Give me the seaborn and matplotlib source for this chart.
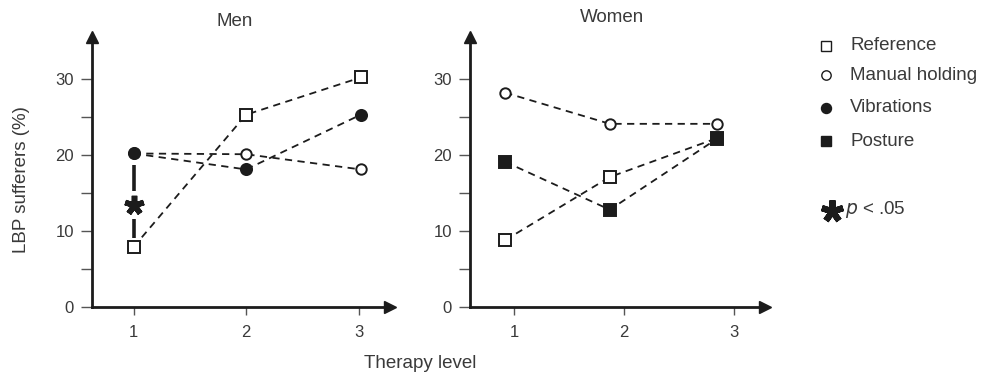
import matplotlib
matplotlib.use("Agg")
import matplotlib.pyplot as plt
import seaborn as sns
import pandas as pd
from matplotlib.lines import Line2D

sns.set_theme(style="white")
plt.rcParams['font.family'] = ['Liberation Sans', 'DejaVu Sans']

# ---- data ----
series = ["Reference", "Manual holding", "Vibrations", "Posture"]
men_x = [1, 2, 3.02]
men_reference = [7.9, 25.3, 30.2]
men_manual = [20.2, 20.1, 18.1]
men_vibrations = [20.2, 18.1, 25.3]
women_x = [0.92, 1.87, 2.84]
women_reference = [8.8, 17.1, 22.2]
women_manual = [28.2, 24.1, 24.1]
women_posture = [19.1, 12.8, 22.1]
yticks_major = [0, 10, 20, 30]
yticks_minor = [5, 15, 25]
xticks = [1, 2, 3]
star_level = 1
star_y = 13.4

ink = "#1c1c1c"
txt = "#3a3a3a"
FS = 13.5
TFS = 12

styles = {
    "Reference": dict(marker="s", mfc="white", ms=8),
    "Manual holding": dict(marker="o", mfc="white", ms=7.5),
    "Vibrations": dict(marker="o", mfc=ink, ms=8),
    "Posture": dict(marker="s", mfc=ink, ms=8.5),
}

rows = []
for s, ys in [("Manual holding", men_manual), ("Vibrations", men_vibrations), ("Reference", men_reference)]:
    for x, y in zip(men_x, ys):
        rows.append(dict(panel="Men", series=s, level=x, pct=y))
for s, ys in [("Manual holding", women_manual), ("Reference", women_reference), ("Posture", women_posture)]:
    for x, y in zip(women_x, ys):
        rows.append(dict(panel="Women", series=s, level=x, pct=y))
df = pd.DataFrame(rows)

fig = plt.figure(figsize=(9.84, 3.75), dpi=100)
ax_men = fig.add_axes([92/984, 1-307/375, (390-92)/984, (307-37)/375])
ax_wom = fig.add_axes([470/984, 1-307/375, (765-470)/984, (307-37)/375])

ytop = (307-37)/7.6

def style_axes(ax, xlim):
    ax.set_xlim(*xlim)
    ax.set_ylim(0, ytop)
    for sp in ["top", "right"]:
        ax.spines[sp].set_visible(False)
    for sp in ["left", "bottom"]:
        ax.spines[sp].set_linewidth(2.0)
        ax.spines[sp].set_color(ink)
    ax.set_xticks(xticks)
    ax.set_xticklabels([str(t) for t in xticks])
    ax.set_yticks(yticks_major)
    ax.set_yticks(yticks_minor, minor=True)
    ax.tick_params(axis="both", which="both", direction="out", color="#555", width=1.0,
                   labelsize=TFS, labelcolor=txt, left=True, bottom=True)
    ax.tick_params(axis="y", which="both", length=8, pad=5)
    ax.tick_params(axis="x", which="major", length=6, pad=7)
    ax.set_xlabel("")
    ax.set_ylabel("")
    ax.grid(False)
    # arrow heads
    ax.plot([0], [1], marker="^", ms=9, color=ink, transform=ax.transAxes, clip_on=False)
    ax.plot([1], [0], marker=">", ms=9, color=ink, transform=ax.transAxes, clip_on=False)

for ax, panel, xlim in [(ax_men, "Men", (0.63, 3.28)), (ax_wom, "Women", (0.6, 3.28))]:
    sub = df[df.panel == panel]
    for s in sub.series.unique():
        d = sub[sub.series == s]
        st = styles[s]
        sns.lineplot(data=d, x="level", y="pct", ax=ax, color=ink, lw=1.3,
                     linestyle=(0, (4, 3)), marker=st["marker"], markersize=st["ms"],
                     markerfacecolor=st["mfc"], markeredgecolor=ink, markeredgewidth=1.4,
                     zorder=3, legend=False)
    style_axes(ax, xlim)

fig.text(235/984, 1-22/375, "Men", ha="center", va="center", fontsize=FS, color=txt)
fig.text(612/984, 1-18/375, "Women", ha="center", va="center", fontsize=FS, color=txt)

# significance marker in Men panel
ax_men.plot([star_level, star_level], [15.3, 18.7], color=ink, lw=2.6, solid_capstyle="butt")
ax_men.plot([star_level, star_level], [9.1, 11.6], color=ink, lw=2.6, solid_capstyle="butt")
ax_men.plot([star_level], [star_y], marker=(5, 2, 0), ms=14, mew=4, color=ink, zorder=4)

fig.text(22/984, 1-180/375, "LBP sufferers (%)", rotation=90, ha="center", va="center",
         fontsize=FS, color=txt)
fig.text(420/984, 1-364/375, "Therapy level", ha="center", va="center", fontsize=FS, color=txt)

# legend
leg_y = [46, 75, 108, 141]
for s, yp in zip(series, leg_y):
    st = styles[s]
    fig.add_artist(Line2D([826/984], [1-yp/375], marker=st["marker"], ms=st["ms"]*0.9,
                          mfc=st["mfc"], mec=ink, mew=1.0, ls="none", transform=fig.transFigure))
    fig.text(850/984, 1-yp/375, s, ha="left", va="center", fontsize=FS, color=txt)
fig.add_artist(Line2D([832/984], [1-211/375], marker=(5, 2, 0), ms=16, mew=4.5, color=ink,
                      ls="none", transform=fig.transFigure))
fig.text(845/984, 1-209/375, r"$p$ < .05", ha="left", va="center", fontsize=FS, color=txt)

fig.savefig("out.png", dpi=100)
